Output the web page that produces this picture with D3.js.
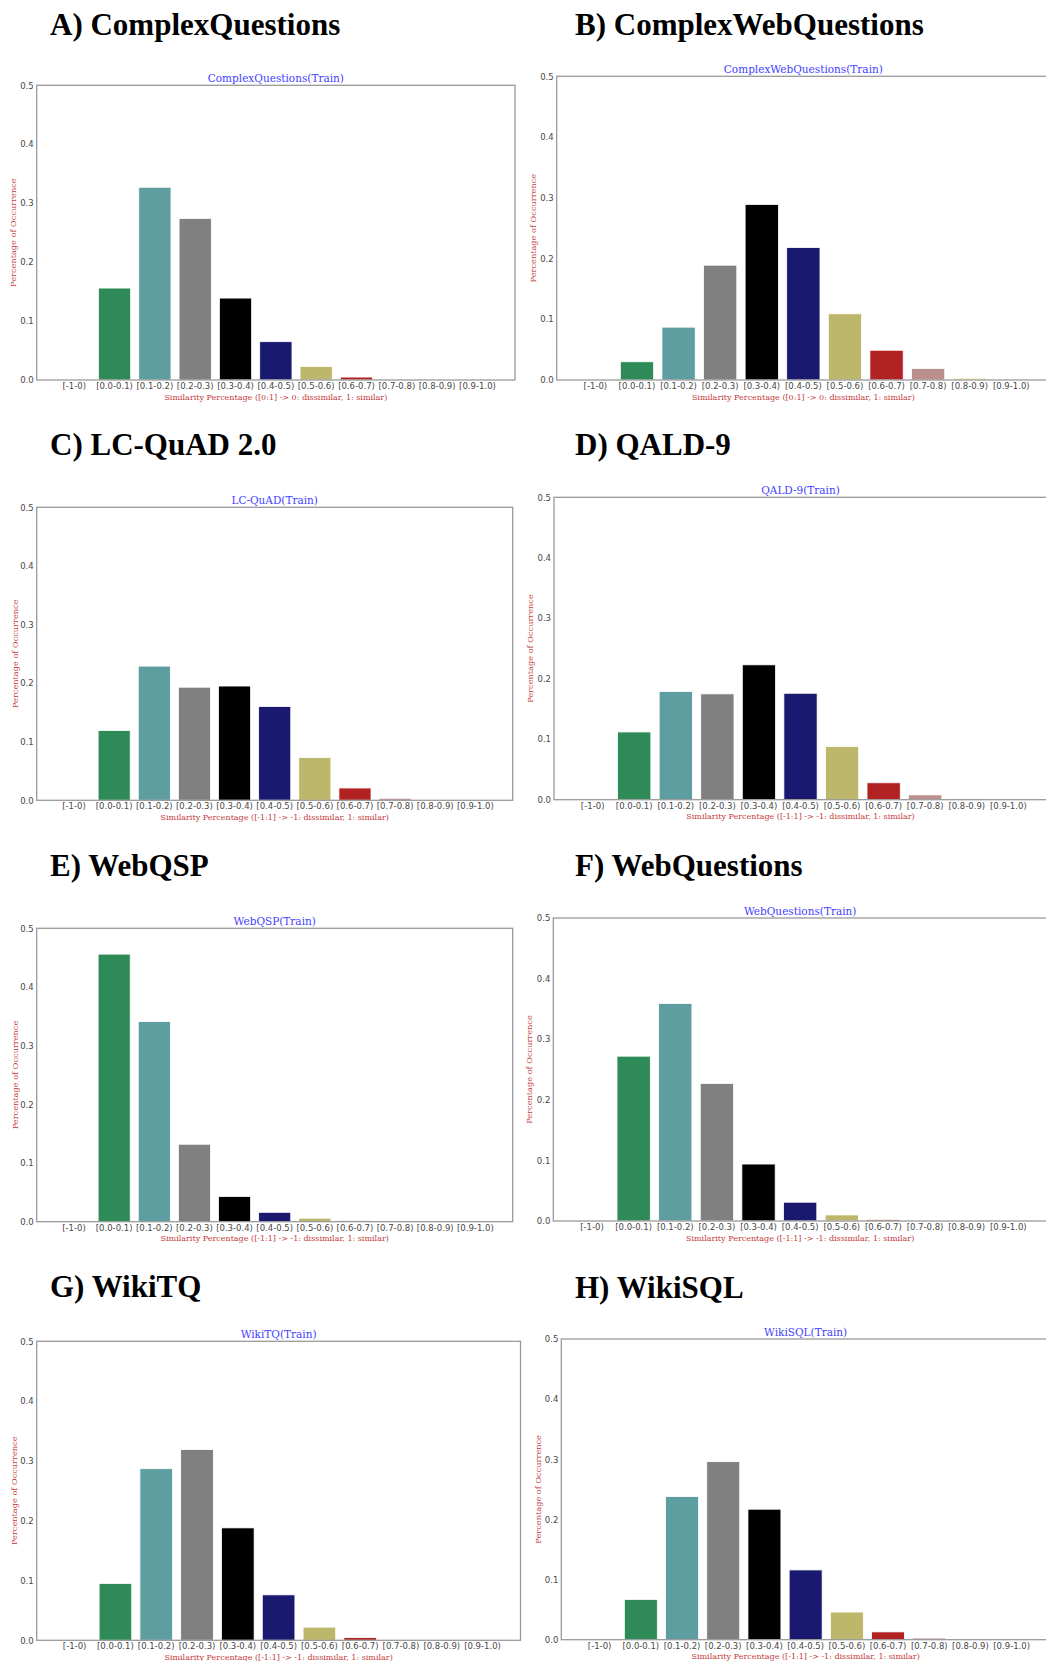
<!DOCTYPE html>
<html>
<head>
<meta charset="utf-8">
<script src="https://cdn.jsdelivr.net/npm/d3@7/dist/d3.min.js"></script>
<style>
  body { margin: 0; background: #fff; }
</style>
</head>
<body>
<svg id="chart" width="1046" height="1661"></svg>
<script>
// bins on the x axis
const categories = ["[-1-0)", "[0.0-0.1)", "[0.1-0.2)", "[0.2-0.3)", "[0.3-0.4)", "[0.4-0.5)",
                    "[0.5-0.6)", "[0.6-0.7)", "[0.7-0.8)", "[0.8-0.9)", "[0.9-1.0)"];
const yTicks = [0, 0.1, 0.2, 0.3, 0.4, 0.5];

const panelNames = ["A) ComplexQuestions", "B) ComplexWebQuestions", "C) LC-QuAD 2.0", "D) QALD-9",
                    "E) WebQSP", "F) WebQuestions", "G) WikiTQ", "H) WikiSQL"];
const trainTitles = ["ComplexQuestions(Train)", "ComplexWebQuestions(Train)", "LC-QuAD(Train)", "QALD-9(Train)",
                     "WebQSP(Train)", "WebQuestions(Train)", "WikiTQ(Train)", "WikiSQL(Train)"];
const xLabelPos = "Similarity Percentage ([0:1] -> 0: dissimilar, 1: similar)";
const xLabelSigned = "Similarity Percentage ([-1:1] -> -1: dissimilar, 1: similar)";
const yLabel = "Percentage of Occurrence";

// share of questions per bin
const complexQuestions    = [0, 0.156, 0.327, 0.274, 0.139, 0.065, 0.023, 0.005, 0.001, 0, 0];
const complexWebQuestions = [0, 0.030, 0.087, 0.189, 0.289, 0.218, 0.109, 0.049, 0.019, 0.003, 0];
const lcQuad              = [0, 0.119, 0.229, 0.193, 0.195, 0.160, 0.073, 0.021, 0.0035, 0, 0];
const qald9               = [0, 0.112, 0.179, 0.175, 0.223, 0.176, 0.088, 0.028, 0.008, 0.0015, 0];
const webQsp              = [0, 0.456, 0.341, 0.132, 0.043, 0.016, 0.006, 0.0017, 0, 0, 0];
const webQuestions        = [0, 0.272, 0.359, 0.227, 0.094, 0.031, 0.010, 0.0022, 0, 0, 0];
const wikiTq              = [0, 0.095, 0.287, 0.319, 0.188, 0.076, 0.022, 0.0045, 0, 0, 0];
const wikiSql             = [0, 0.067, 0.238, 0.296, 0.217, 0.116, 0.046, 0.013, 0.0028, 0, 0];

const series = [complexQuestions, complexWebQuestions, lcQuad, qald9, webQsp, webQuestions, wikiTq, wikiSql];
const xLabels = [xLabelPos, xLabelPos, xLabelSigned, xLabelSigned, xLabelSigned, xLabelSigned, xLabelSigned, xLabelSigned];

const barColors = ["#6495ed", "#2e8b57", "#5f9ea0", "#808080", "#000000", "#191970",
                   "#bdb76b", "#b22222", "#bc8f8f", "#f2d48a", "#d2b48c"];

// where each little plot sits on the page
const layout = [
  {left: 36.7,  right: 515,   top: 85.3,   bottom: 380,    headX: 50,  headY: 34.5, ylabX: 13.5},
  {left: 556.7, right: 1050,  top: 76.3,   bottom: 380,    headX: 575, headY: 34.5, ylabX: 533.5},
  {left: 36.7,  right: 512.7, top: 507.3,  bottom: 800.3,  headX: 50,  headY: 455,  ylabX: 15},
  {left: 554,   right: 1047,  top: 497.3,  bottom: 799.7,  headX: 575, headY: 455,  ylabX: 530},
  {left: 36.7,  right: 512.7, top: 928.3,  bottom: 1221.7, headX: 50,  headY: 876,  ylabX: 15},
  {left: 553.3, right: 1047,  top: 918,    bottom: 1221,   headX: 575, headY: 876,  ylabX: 529.5},
  {left: 36.7,  right: 520.5, top: 1341.3, bottom: 1640.3, headX: 50,  headY: 1297, ylabX: 14},
  {left: 561.3, right: 1050,  top: 1339,   bottom: 1639.7, headX: 575, headY: 1297.5, ylabX: 538.5}
];

let svg = d3.select("#chart");

series.forEach(function(values, i) {
    let L = layout[i];
    let g = svg.append("g");

    let x = d3.scaleBand()
        .domain(categories)
        .range([L.left, L.right])
        .paddingInner(0.2)
        .paddingOuter(0.53);

    let y = d3.scaleLinear()
        .domain([0, 0.5])
        .range([L.bottom, L.top]);

    // big panel heading
    g.append("text")
        .attr("x", L.headX)
        .attr("y", L.headY)
        .style("font", "bold 31px 'Liberation Serif', 'Times New Roman', serif")
        .attr("fill", "#000")
        .text(panelNames[i]);

    // bars
    g.selectAll(".bar")
        .data(values)
        .enter().append("rect")
        .attr("class", "bar")
        .attr("x", (d, k) => x(categories[k]))
        .attr("width", x.bandwidth())
        .attr("y", d => y(d))
        .attr("height", d => y(0) - y(d))
        .attr("fill", (d, k) => barColors[k])
        .attr("stroke", "#fff")
        .attr("stroke-width", 0.8);

    // frame
    g.append("rect")
        .attr("x", L.left)
        .attr("y", L.top)
        .attr("width", L.right - L.left)
        .attr("height", L.bottom - L.top)
        .attr("fill", "none")
        .attr("stroke", "#9a9a9a")
        .attr("stroke-width", 1.3);

    let yAxis = g.append("g")
        .attr("transform", "translate(" + L.left + ",0)")
        .call(d3.axisLeft(y).tickValues(yTicks).tickFormat(d3.format(".1f")).tickSize(0).tickPadding(3));
    yAxis.select(".domain").remove();

    let xAxis = g.append("g")
        .attr("transform", "translate(0," + L.bottom + ")")
        .call(d3.axisBottom(x).tickSize(0).tickPadding(3));
    xAxis.select(".domain").remove();

    g.selectAll(".tick text")
        .style("font", "8.5px 'DejaVu Sans', sans-serif")
        .attr("fill", "#474747");

    // small blue title above the frame
    g.append("text")
        .attr("x", (L.left + L.right) / 2)
        .attr("y", L.top - 3)
        .attr("text-anchor", "middle")
        .style("font", "10.5px 'DejaVu Serif', serif")
        .attr("fill", "#4242ff")
        .text(trainTitles[i]);

    // x axis label
    g.append("text")
        .attr("x", (L.left + L.right) / 2)
        .attr("y", L.bottom + 19.5)
        .attr("text-anchor", "middle")
        .style("font", "8px 'DejaVu Serif', serif")
        .attr("fill", "#c33a3a")
        .text(xLabels[i]);

    // y axis label
    g.append("text")
        .attr("transform", "translate(" + L.ylabX + "," + (L.top + L.bottom) / 2 + ") rotate(-90)")
        .attr("text-anchor", "middle")
        .attr("dy", "0.35em")
        .style("font", "8.2px 'DejaVu Serif', serif")
        .attr("fill", "#c33a3a")
        .text(yLabel);
});
</script>
</body>
</html>
